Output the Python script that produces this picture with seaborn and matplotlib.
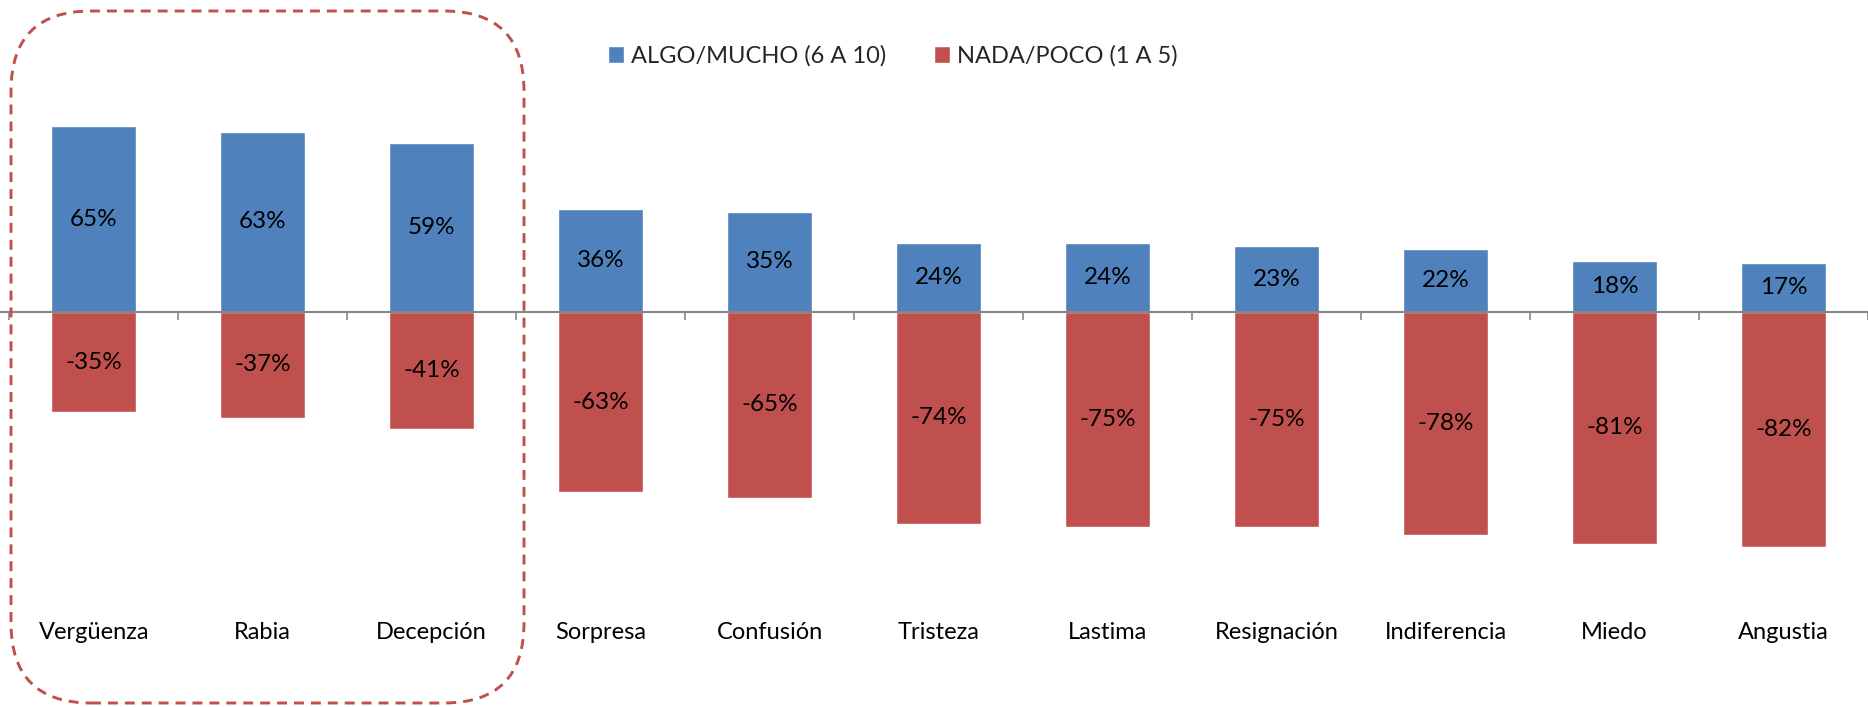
import matplotlib
matplotlib.use("Agg")
import matplotlib.pyplot as plt
import pandas as pd
import seaborn as sns
from matplotlib.patches import FancyBboxPatch, Patch

# --- DATA ---
categories = ["Vergüenza", "Rabia", "Decepción", "Sorpresa", "Confusión", "Tristeza",
              "Lastima", "Resignación", "Indiferencia", "Miedo", "Angustia"]
algo_mucho = [65, 63, 59, 36, 35, 24, 24, 23, 22, 18, 17]
nada_poco = [-35, -37, -41, -63, -65, -74, -75, -75, -78, -81, -82]
legend_labels = ["ALGO/MUCHO (6 A 10)", "NADA/POCO (1 A 5)"]

BLUE = "#4F81BD"
RED = "#C0504D"
GREY = "#868686"

sns.set_theme(style="white")
plt.rcParams["font.family"] = ["Lato", "DejaVu Sans"]

df = pd.DataFrame({"cat": categories, "pos": algo_mucho, "neg": nada_poco})

fig = plt.figure(figsize=(18.68, 7.07), dpi=100)
ax = fig.add_axes([0, 0, 1, 1])

sns.barplot(data=df, x="cat", y="pos", color=BLUE, width=0.5, saturation=1, ax=ax)
sns.barplot(data=df, x="cat", y="neg", color=RED, width=0.5, saturation=1, ax=ax)

for cont in ax.containers:
    ax.bar_label(cont, labels=[f"{v:.0f}%" for v in cont.datavalues],
                 label_type="center", fontsize=17.5, color="black")

# axis mapping: category pitch 169.5 px, first center at 94 px; zero line 312 px from top
ax.set_xlim(-94 / 169.5, (1868 - 94) / 169.5)
ax.set_ylim((312 - 707) / 2.86, 312 / 2.86)

for s in ["top", "right", "left"]:
    ax.spines[s].set_visible(False)
ax.spines["bottom"].set_position(("data", 0))
ax.spines["bottom"].set_color(GREY)
ax.spines["bottom"].set_linewidth(1.5)
ax.set_yticks([])
ax.set_xticks([i - 0.5 for i in range(len(categories) + 1)])
ax.set_xticklabels([])
ax.tick_params(axis="x", direction="out", length=6, width=1.2, color=GREY, bottom=True)
ax.set_xlabel("")
ax.set_ylabel("")

# category labels near the bottom
for i, c in enumerate(categories):
    ax.text(i, 0.105, c, transform=ax.get_xaxis_transform(), ha="center", va="center",
            fontsize=17, color="black")

handles = [Patch(facecolor=BLUE), Patch(facecolor=RED)]
ax.legend(handles, legend_labels, ncol=2, loc="center", bbox_to_anchor=(0.478, 0.921),
          frameon=False, fontsize=17, handlelength=0.7, handleheight=0.7,
          handletextpad=0.3, columnspacing=2.0)

# dashed rounded box around first three categories
box = FancyBboxPatch((0.11, 0.04), 5.13, 6.92, boxstyle="round,pad=0,rounding_size=0.8",
                     transform=fig.dpi_scale_trans, fill=False, edgecolor=RED,
                     linewidth=2.1, linestyle=(0, (3.4, 2.4)), clip_on=False)
fig.patches.append(box)

fig.savefig("out.png", dpi=100)
